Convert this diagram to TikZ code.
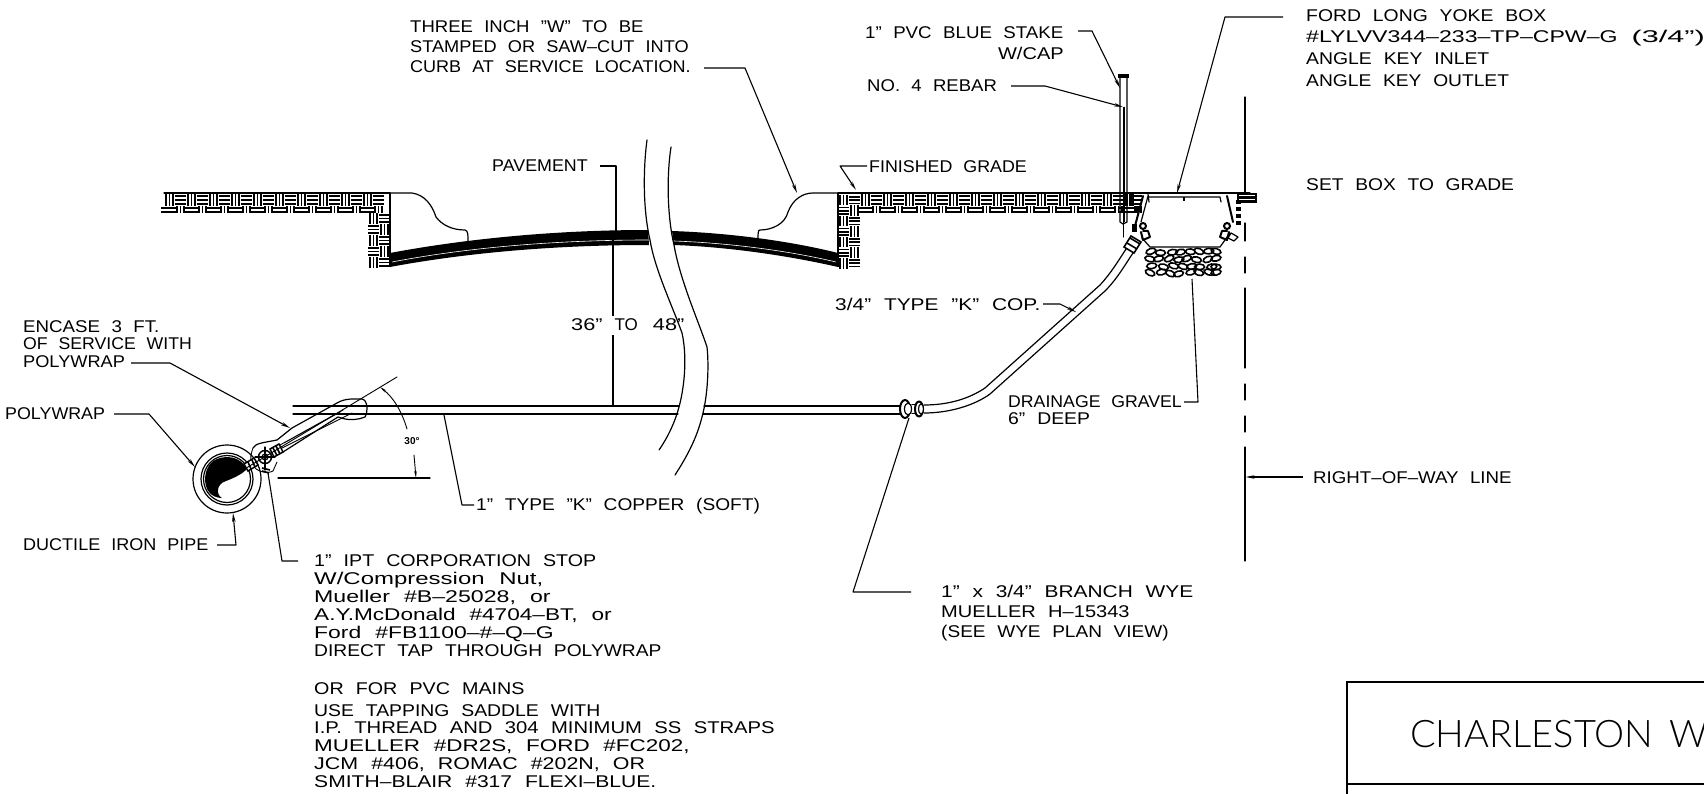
\documentclass[tikz,border=0pt]{standalone}
\usepackage{fontspec}
\usepackage{graphicx}
\setmainfont[WordSpace=2.2]{Liberation Sans}
\newfontfamily\titlefont[WordSpace=1.6]{Lato Light}
\usetikzlibrary{arrows.meta}
\tikzset{
  lbl/.style={inner sep=0pt,anchor=north west,align=left,font=\fontsize{17}{18}\selectfont},
  ln/.style={line width=1.2pt,line cap=round,line join=round},
  thin ln/.style={line width=.9pt,line cap=round,line join=round},
  heavy/.style={line width=2pt,line cap=round,line join=round},
  leader/.style={line width=1.1pt,line join=round},
  arrowed/.style={leader,-{Stealth[length=9pt,width=3.5pt]}},
  wv/.style={line width=1.6pt,black}
}
\newcommand\sx[2]{\scalebox{#1}[1]{#2}}
\newcommand\wvH[4]{\foreach \f in {.18,.5,.82}{\draw[wv] (#1,{#2+\f*#4}) -- ++(#3,0);}}
\newcommand\wvV[4]{\foreach \f in {.18,.5,.82}{\draw[wv] ({#1+\f*#3},#2) -- ++(0,#4);}}
\newcommand\wvpair[1]{\wvV{#1}{194}{11}{12}\wvH{#1+11}{194}{11}{12}%
  \draw[wv] ({#1-3},208) -- ++(17,0) ({#1-3},212) -- ++(17,0);%
  \wvV{#1+11}{206}{11}{7.5}}
\begin{document}
\begin{tikzpicture}[x=1pt,y=-1pt]
\useasboundingbox (0,0) rectangle (1704,794);
% ---------- hatching
\foreach \i in {0,...,9}{\wvpair{164+22*\i}}
\foreach \j in {0,1,2,3,4}{
  \pgfmathtruncatemacro\a{mod(\j,2)}
  \ifnum\a=0 \wvH{379}{213+11*\j}{11}{11}\wvV{368}{213+11*\j}{11}{11}\else\wvV{379}{213+11*\j}{11}{11}\wvH{368}{213+11*\j}{11}{11}\fi
}
\foreach \i in {0,...,12}{\wvpair{860+22*\i}}
\wvpair{1122}
\foreach \j in {0,...,6}{
  \pgfmathtruncatemacro\a{mod(\j,2)}
  \ifnum\a=0 \wvV{838}{195+10.5*\j}{11}{10.5}\wvH{849}{195+10.5*\j}{11}{10.5}\else\wvH{838}{195+10.5*\j}{11}{10.5}\wvV{849}{195+10.5*\j}{11}{10.5}\fi
}
\fill[white] (1142,190) rectangle (1238,232);
\draw[ln] (164,193) -- (390,193) (838,193) -- (1250,193);
\draw[line width=1.8pt] (390,193) -- (390,267) (838,193) -- (838,267);
% ---------- road
\fill (390,253) .. controls (470,238) and (560,230) .. (648,230) -- (649,245) .. controls (560,245) and (470,252) .. (390,267) -- cycle;
\fill (672,231) .. controls (730,233) and (790,241) .. (838,253) -- (838,267) .. controls (790,256) and (730,247) .. (674,245) -- cycle;
\draw[white,line width=.6pt] (392,262) .. controls (470,247) and (560,240) .. (648,240);
\draw[white,line width=.6pt] (674,241) .. controls (730,243) and (790,251) .. (836,262);
% ---------- curbs
\draw[ln] (390,193) -- (412,193) .. controls (425,195) and (432,205) .. (436,217) .. controls (442,225) and (452,230) .. (465,230) .. controls (468,231) and (468,234) .. (468,241);
\draw[ln] (838,193) -- (813,193) .. controls (803,193) and (793,199) .. (788,212) .. controls (785,224) and (772,230) .. (760,230) .. controls (758,230) and (758,233) .. (758,240);
% ---------- break curves
\draw[ln] (647,140) .. controls (643,170) and (643,210) .. (650,240) .. controls (655,270) and (672,305) .. (682,333) .. controls (687,355) and (685,385) .. (679,407) .. controls (675,422) and (668,437) .. (659,450);
\draw[ln] (671,147) .. controls (666,180) and (668,220) .. (674,245) .. controls (680,280) and (698,320) .. (707,347) .. controls (709,365) and (708,395) .. (702,417) .. controls (697,437) and (688,455) .. (675,475);
% ---------- main service pipe
\draw[ln] (293,406) -- (679,406) (293,414) -- (678,414);
\draw[ln] (704,406) -- (900,406) (703,414) -- (900,414);
% ---------- branch wye
\draw[heavy,fill=white] (905,409) ellipse (5 and 9);
\draw[ln,fill=white] (908,409) ellipse (3.5 and 6);
\draw[ln] (912,404.5) -- (917,404.5) (912,413.5) -- (917,413.5);
\draw[heavy,fill=white] (919,409) ellipse (4 and 7.5);
\draw[ln,fill=white] (921,409) ellipse (2.5 and 5);
% ---------- copper tube to box
\draw[ln] (924,405) .. controls (950,405) and (970,398) .. (985,388) -- (1100,285) .. controls (1112,272) and (1120,258) .. (1128,246);
\draw[ln] (924,413) .. controls (950,413) and (975,405) .. (990,394) -- (1105,291) .. controls (1118,278) and (1126,263) .. (1135,250);
\draw[line width=1.6pt,fill=white] (1124,247) -- (1131,236) -- (1141,242) -- (1134,253) -- cycle;
\draw[wv] (1127,243) -- (1137,249) (1130,238) -- (1140,244);
% ---------- stake
\draw[ln] (1120,78) -- (1120,222) -- (1123,224) -- (1127,222) -- (1127,78);
\draw[line width=2pt] (1123.5,107) -- (1123.5,222);
\draw[ln] (1123.5,222) -- (1123.5,237);
\fill (1118,74) rectangle (1129,78);
% ---------- meter box
\draw[heavy] (1143,196) -- (1135,226);
\draw[ln] (1148,196) -- (1141,222);
\draw[ln] (1142,238) -- (1150,247) -- (1220,247) -- (1230,233);
\draw[ln] (1148,194) -- (1149,202);
\draw[ln] (1149,197) -- (1220,197) -- (1221,202);
\draw[line width=2.5pt] (1184,197) -- (1184,201);
\draw[heavy] (1227,196) -- (1233,222);
\draw[heavy] (1143,226) circle (3);
\draw[heavy] (1141,232) -- (1143,240) -- (1150,237) -- (1148,231) -- (1143,231);
\draw[heavy] (1227,226) circle (3);
\draw[heavy] (1229,232) -- (1227,240) -- (1220,237) -- (1222,231) -- (1227,231);
\draw[ln,fill=white] (1231,233) -- (1238,237) -- (1234,241) -- (1228,238) -- cycle;
\fill (1132,224) rectangle (1137,232);
\foreach \yy in {200,207,214,221}{\fill (1236,\yy) rectangle (1241,\yy+4);}
\fill (1237,193) rectangle (1257,203);
\foreach \yy in {195.5,199}{\draw[white,line width=.6pt] (1239,\yy) -- (1255,\yy);}
% ---------- gravel
\pgfmathsetseed{7}
\foreach \yy/\xs/\n in {252/1152/7,259/1149/7,266/1153/7,273/1151/7}{
  \foreach \i in {0,...,\n}{
    \pgfmathsetmacro\ang{rnd*50-25}
    \pgfmathsetmacro\dx{rnd*3-1.5}
    \pgfmathsetmacro\dy{rnd*2-1}
    \pgfmathsetmacro\cxx{min(\xs+9.6*\i+\dx,1216)}
    \draw[line width=1.6pt,rotate around={\ang:(\cxx,\yy+\dy)}] (\cxx,\yy+\dy) ellipse (5 and 2.8);
  }
}
% ---------- right-of-way line
\draw[ln] (1245,97) -- (1245,193);
\draw[ln] (1245,223) -- (1245,241);
\draw[ln] (1245,257) -- (1245,273);
\draw[ln] (1245,288) -- (1245,368);
\draw[ln] (1245,384) -- (1245,400);
\draw[ln] (1245,416) -- (1245,432);
\draw[ln] (1245,447) -- (1245,561);
% ---------- main pipe circles
\draw[ln] (227,479) circle (34);
\draw[ln] (227,479) circle (26);
\draw[ln] (227,479) circle (23.5);
\fill (240,461) .. controls (232,455) and (218,456) .. (211,463) .. controls (204,470) and (203,485) .. (209,492) .. controls (212,496) and (217,498) .. (222,498) .. controls (216,495) and (216,484) .. (226,481) .. controls (234,478) and (242,474) .. (246,470) .. controls (246,466) and (243,463) .. (240,461) -- cycle;
% ---------- corporation stop and gooseneck
\draw[ln] (253,448) .. controls (256,443) and (262,443) .. (277,440) -- (292,428) -- (337,403) .. controls (345,398) and (355,399) .. (362,399) .. controls (368,400) and (368,412) .. (365,417) .. controls (358,420) and (350,420) .. (345,419) -- (338,417) -- (283,452);
\draw[thin ln] (280,445) -- (343,410) (282,448) -- (352,413) (284,443) -- (340,412);
\draw[thin ln] (253,448) .. controls (250,456) and (250,464) .. (253,465) .. controls (256,472) and (268,474) .. (273,471) -- (277,462);
\draw[line width=1.5pt,fill=white] (265,457) circle (6.5);
\draw[ln] (265,457) circle (3);
\draw[ln] (255,457) -- (275,457) (265,447) -- (265,470);
\draw[line width=1.5pt,fill=white] (270,449) -- (279,444) -- (283,452) -- (274,457) -- cycle;
\draw[wv] (273,448) -- (277,455.5) (276,446) -- (280,454);
\draw[line width=1.5pt,fill=white] (244,464) -- (254,458) -- (258,465) -- (248,471) -- cycle;
\draw[wv] (248,462) -- (251,469) (252,460) -- (255,467);
\draw[wv] (262,468) -- (270,470) (262,471) -- (269,473);
% ---------- 30 degree dimension
\coordinate (angTop) at (397,377);
\coordinate (angBase) at (243,470);
\draw[thin ln] (angBase) -- (angTop);
\draw[ln] (278,478) -- (430,478);
\draw[thin ln,-{Stealth[length=7pt,width=2.5pt]}] (407,429) .. controls (402,412) and (394,398) .. (380,387);
\draw[thin ln,-{Stealth[length=7pt,width=2.5pt]}] (414,455) -- (416,478);
\node[inner sep=0pt,font=\bfseries\fontsize{10}{11}\selectfont] (lAngle) at (412,441) {30°};
% ---------- labels
\node[lbl] (lCurb) at (410,20) {\sx{1.09}{THREE INCH "W" TO BE}\\[2.8pt]\sx{1.07}{STAMPED OR SAW–CUT INTO}\\[2pt]\sx{1.06}{CURB AT SERVICE LOCATION.}};
\node[lbl] (lPave) at (492,160) {\sx{1.05}{PAVEMENT}};
\node[lbl] (lGrade) at (869,160) {\sx{1.05}{FINISHED GRADE}};
\node[lbl] (lStake) at (865,26) {\sx{1.1}{1" PVC BLUE STAKE}};
\node[lbl,anchor=north east] (lCap) at (1064,47) {\sx{1.18}{W/CAP}};
\node[lbl] (lRebar) at (867,79) {\sx{1.09}{NO. 4 REBAR}};
\node[lbl,font=\fontsize{17}{21.8}\selectfont] (lFord) at (1306,9) {\sx{1.14}{FORD LONG YOKE BOX}\\\sx{1.36}{\#LYLVV344–233–TP–CPW–G}\hspace{14pt}\sx{1.8}{(3/4")}\\\sx{1.14}{ANGLE KEY INLET}\\\sx{1.13}{ANGLE KEY OUTLET}};
\node[lbl] (lSet) at (1306,178) {\sx{1.13}{SET BOX TO GRADE}};
\node[lbl] (lDepth) at (571,318) {\sx{1.28}{36"}\hspace{12pt}TO\hspace{15pt}\sx{1.28}{48"}};
\node[lbl] (lCop) at (835,298) {\sx{1.23}{3/4" TYPE "K" COP.}};
\node[lbl,font=\fontsize{17}{17.8}\selectfont] (lGravel) at (1008,395) {\sx{1.04}{DRAINAGE GRAVEL}\\\sx{1.14}{6" DEEP}};
\node[lbl] (lRow) at (1313,471) {\sx{1.1}{RIGHT–OF–WAY LINE}};
\node[lbl,font=\fontsize{17}{17.8}\selectfont] (lEncase) at (23,320) {\sx{1.1}{ENCASE 3 FT.}\\\sx{1.04}{OF SERVICE WITH}\\\sx{1.07}{POLYWRAP}};
\node[lbl] (lPoly) at (5,407) {\sx{1.05}{POLYWRAP}};
\node[lbl] (lIron) at (23,538) {\sx{1.06}{DUCTILE IRON PIPE}};
\node[lbl] (lCopper) at (476,498) {\sx{1.125}{1" TYPE "K" COPPER (SOFT)}};
\node[lbl,font=\fontsize{17}{18}\selectfont] (lTap) at (314,554) {\sx{1.156}{1" IPT CORPORATION STOP}\\\sx{1.41}{W/Compression Nut,}\\\sx{1.36}{Mueller \#B–25028, or}\\\sx{1.33}{A.Y.McDonald \#4704–BT, or}\\\sx{1.35}{Ford \#FB1100–\#–Q–G}\\\sx{1.13}{DIRECT TAP THROUGH POLYWRAP}};
\node[lbl] (lOr) at (314,682) {\sx{1.16}{OR FOR PVC MAINS}};
\node[lbl,font=\fontsize{17}{17.8}\selectfont] (lSaddle) at (314,704) {\sx{1.14}{USE TAPPING SADDLE WITH}\\\sx{1.19}{I.P. THREAD AND 304 MINIMUM SS STRAPS}\\\sx{1.32}{MUELLER \#DR2S, FORD \#FC202,}\\\sx{1.26}{JCM \#406, ROMAC \#202N, OR}\\\sx{1.24}{SMITH–BLAIR \#317 FLEXI–BLUE.}};
\node[lbl,font=\fontsize{17}{20}\selectfont] (lWye) at (941,585) {\sx{1.23}{1" x 3/4" BRANCH WYE}\\\sx{1.18}{MUELLER H–15343}\\\sx{1.12}{(SEE WYE PLAN VIEW)}};
% ---------- leaders
\coordinate (aCurb) at (704,68); \coordinate (bCurb) at (745,68); \coordinate (cCurb) at (797,193);
\draw[arrowed] (aCurb) -- (bCurb) -- (cCurb);
\coordinate (aPave) at (600,166); \coordinate (bPave) at (616,166); \coordinate (cPave) at (616,235);
\draw[leader] (aPave) -- (bPave) -- (cPave);
\coordinate (aDepth) at (613,240); \coordinate (bDepth) at (613,316); \coordinate (cDepth) at (613,335); \coordinate (dDepth) at (613,406);
\draw[leader] (aDepth) -- (bDepth) (cDepth) -- (dDepth);
\coordinate (aGrade) at (867,166); \coordinate (bGrade) at (840,166); \coordinate (cGrade) at (856,190);
\draw[arrowed] (aGrade) -- (bGrade) -- (cGrade);
\coordinate (aStake) at (1078,31); \coordinate (bStake) at (1092,31); \coordinate (cStake) at (1120,88);
\draw[arrowed] (aStake) -- (bStake) -- (cStake);
\coordinate (aRebar) at (1011,86); \coordinate (bRebar) at (1045,86); \coordinate (cRebar) at (1123,107);
\draw[arrowed] (aRebar) -- (bRebar) -- (cRebar);
\coordinate (aFord) at (1283,17); \coordinate (bFord) at (1225,17); \coordinate (cFord) at (1177,193);
\draw[arrowed] (aFord) -- (bFord) -- (cFord);
\coordinate (aCop) at (1043,304); \coordinate (bCop) at (1060,304); \coordinate (cCop) at (1076,312);
\draw[arrowed] (aCop) -- (bCop) -- (cCop);
\coordinate (aGravel) at (1184,402); \coordinate (bGravel) at (1198,402); \coordinate (cGravel) at (1192,279);
\draw[leader] (aGravel) -- (bGravel) -- (cGravel);
\coordinate (aRow) at (1303,477); \coordinate (cRow) at (1245.5,477);
\draw[arrowed] (aRow) -- (cRow);
\coordinate (aEnc) at (131,363); \coordinate (bEnc) at (170,363); \coordinate (cEnc) at (290,428);
\draw[arrowed] (aEnc) -- (bEnc) -- (cEnc);
\coordinate (aPoly) at (114,414); \coordinate (bPoly) at (149,414); \coordinate (cPoly) at (195,467);
\draw[arrowed] (aPoly) -- (bPoly) -- (cPoly);
\coordinate (aIron) at (217,545); \coordinate (bIron) at (236,545); \coordinate (cIron) at (233,513);
\draw[arrowed] (aIron) -- (bIron) -- (cIron);
\coordinate (aCopper) at (474,505); \coordinate (bCopper) at (462,505); \coordinate (cCopper) at (444,415);
\draw[leader] (aCopper) -- (bCopper) -- (cCopper);
\coordinate (aTap) at (298,561); \coordinate (bTap) at (282,561); \coordinate (cTap) at (268,473);
\draw[leader] (aTap) -- (bTap) -- (cTap);
\coordinate (aWye) at (911,592); \coordinate (bWye) at (853,592); \coordinate (cWye) at (909,418);
\draw[leader] (aWye) -- (bWye) -- (cWye);
% ---------- title block
\draw[line width=1.4pt] (1704,682) -- (1347,682) -- (1347,794);
\draw[line width=1.4pt] (1347,784) -- (1704,784);
\node[inner sep=0pt,anchor=base west,font=\titlefont\fontsize{38}{40}\selectfont] (lTitle) at (1410,747) {CHARLESTON W};
\end{tikzpicture}
\end{document}
